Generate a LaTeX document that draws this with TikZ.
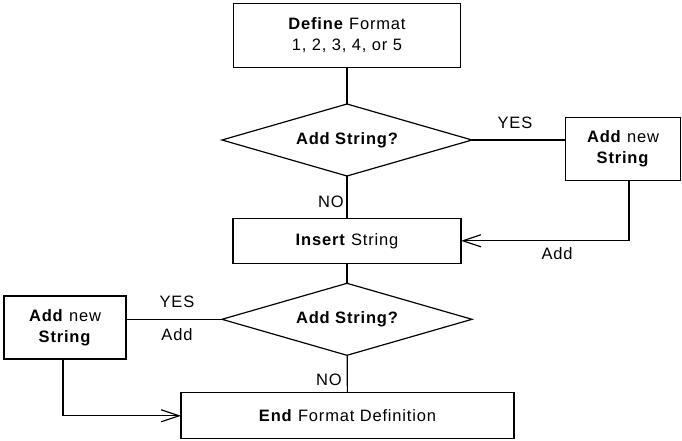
\documentclass[tikz,border=0pt]{standalone}
\usepackage{fontspec}
\setsansfont{Liberation Sans}[LetterSpace=5]
\usetikzlibrary{shapes.geometric,arrows.meta}
\begin{document}
\begin{tikzpicture}[x=1pt, y=-1pt, font=\sffamily\fontsize{16.5}{21}\selectfont, line width=1.2pt,
        box/.style={draw, rectangle, inner sep=0pt, align=center, outer sep=0pt},
        decision/.style={draw, diamond, aspect=3.47, inner sep=0pt, minimum width=250pt, minimum height=72pt, outer sep=0pt, font=\sffamily\bfseries\fontsize{16.5}{21}\selectfont},
        label/.style={inner sep=0pt},
        open/.style={-{Straight Barb[length=18pt, width=12pt, line width=1.2pt]}}]
    \useasboundingbox (0,0) rectangle (682,441);
    \node[box, minimum width=227pt, minimum height=64pt] (define) at (347, 35.3) {\textbf{Define} Format\\1, 2, 3, 4, or 5};
    \node[decision] (ask1) at (347, 140) {Add String?};
    \node[box, minimum width=115pt, minimum height=63pt] (addright) at (623, 149) {\textbf{Add} new\\\textbf{String}};
    \node[box, minimum width=228pt, minimum height=45pt] (insert) at (347, 240.8) {\textbf{Insert} String};
    \node[decision] (ask2) at (347, 319.3) {Add String?};
    \node[box, minimum width=122pt, minimum height=63pt] (addleft) at (65, 327.5) {\textbf{Add} new\\\textbf{String}};
    \node[box, minimum width=333pt, minimum height=46pt] (finish) at (347.5, 415.8) {\textbf{End} Format Definition};
    % labels on the lines
    \node[label] (yes1) at (515, 123) {YES};
    \node[label] (add1) at (557, 254) {Add};
    \node[label] (no1) at (331, 202) {NO};
    \node[label] (yes2) at (177, 302) {YES};
    \node[label] (add2) at (177, 335) {Add};
    \node[label] (no2) at (329, 380) {NO};
    % connectors
    \draw (define) -- (ask1);
    \draw (ask1.east) -- (ask1.east -| addright.west);
    \draw[open] ([xshift=6pt]addright.south) |- (insert.east);
    \draw (ask1) -- (insert);
    \draw (insert) -- (ask2);
    \draw (ask2.west) -- (ask2.west -| addleft.east);
    \draw[open] ([xshift=-2pt]addleft.south) |- (finish.west);
    \draw (ask2) -- (finish);
\end{tikzpicture}
\end{document}
